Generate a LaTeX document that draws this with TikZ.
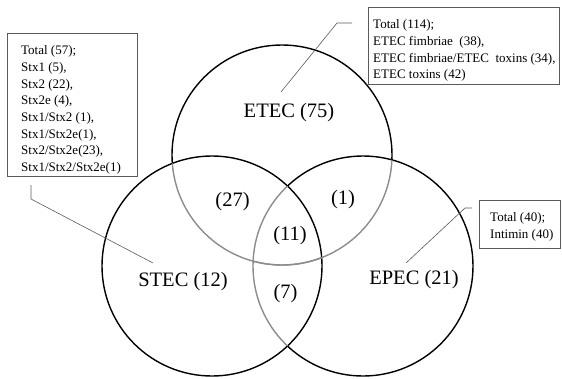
\documentclass[tikz,border=0pt]{standalone}
\usepackage{fontspec}
\setmainfont{Liberation Serif}
\usepackage{xcolor}
\definecolor{overlapgray}{HTML}{8C8C8C}
\definecolor{leadergray}{HTML}{5A5A5A}

\tikzset{
  ring/.style={line width=1.4pt},
  setlabel/.style={font=\fontsize{20.5}{24}\selectfont,inner sep=0pt},
  infobox/.style={draw=leadergray,line width=0.7pt,anchor=north west,inner sep=0pt},
  infotext/.style={font=\fontsize{13}{16.7}\selectfont,align=left,anchor=north west,inner sep=0pt},
  leader/.style={draw=leadergray,line width=0.6pt}
}

\begin{document}
\begin{tikzpicture}[x=1pt,y=-1pt]
\useasboundingbox (0,0) rectangle (562,378);

% Centres of the three sets
\coordinate (etecc) at (282,155);
\coordinate (stecc) at (212,266);
\coordinate (epecc) at (363,266);

% STEC circle, black all round
\draw[ring] (stecc) circle[radius=110pt];

% EPEC circle: black outside STEC, grey inside it
\begin{scope}[even odd rule]
  \clip (0,0) rectangle (562,378) (stecc) circle[radius=110pt];
  \draw[ring] (epecc) circle[radius=110pt];
\end{scope}
\begin{scope}
  \clip (stecc) circle[radius=110pt];
  \draw[ring,overlapgray] (epecc) circle[radius=110pt];
\end{scope}

% ETEC circle: black outside the two lower sets, grey inside them
\begin{scope}[even odd rule]
  \clip (0,0) rectangle (562,378) (stecc) circle[radius=110pt];
  \clip (0,0) rectangle (562,378) (epecc) circle[radius=110pt];
  \draw[ring] (etecc) circle[radius=110pt];
\end{scope}
\begin{scope}
  \clip (stecc) circle[radius=110pt];
  \draw[ring,overlapgray] (etecc) circle[radius=110pt];
\end{scope}
\begin{scope}
  \clip (epecc) circle[radius=110pt];
  \draw[ring,overlapgray] (etecc) circle[radius=110pt];
\end{scope}

% Set names and counts
\node[setlabel] (etec) at (289,113) {ETEC (75)};
\node[setlabel] (stec) at (183,281.5) {STEC (12)};
\node[setlabel] (epec) at (414,280) {EPEC (21)};
\node[setlabel] (etecstec) at (232.5,202) {(27)};
\node[setlabel] (etecepec) at (343,199.5) {(1)};
\node[setlabel] (allthree) at (290,236) {(11)};
\node[setlabel] (stecepec) at (285.5,294) {(7)};

% Detail boxes
\node[infobox,minimum width=130pt,minimum height=143pt] (stecbox) at (7,33) {};
\node[infotext] (stectext) at ([shift={(14,12.5)}]stecbox.north west)
  {Total (57);\\Stx1 (5),\\Stx2 (22),\\Stx2e (4),\\Stx1/Stx2 (1),\\Stx1/Stx2e(1),\\Stx2/Stx2e(23),\\Stx1/Stx2/Stx2e(1)};

\node[infobox,minimum width=191pt,minimum height=77pt] (etecbox) at (368,7) {};
\node[infotext] (etectext) at ([shift={(5,12.5)}]etecbox.north west)
  {Total (114);\\ETEC fimbriae~ (38),\\ETEC fimbriae/ETEC~ toxins (34),\\ETEC toxins (42)};

\node[infobox,minimum width=81pt,minimum height=48pt] (epecbox) at (479,200) {};
\node[infotext] (epectext) at ([shift={(11,12.5)}]epecbox.north west)
  {Total (40);\\Intimin (40)};

% Leader lines from the boxes into the circles
\coordinate (etectip) at (352,23);
\coordinate (etecknee) at (337,23);
\coordinate (etecfoot) at (281,92);
\draw[leader] (etectip) -- (etecknee) -- (etecfoot);

\coordinate (stectip) at (31,185);
\coordinate (stecknee) at (31,199);
\coordinate (stecfoot) at (153,263);
\draw[leader] (stectip) -- (stecknee) -- (stecfoot);

\coordinate (epectip) at (472,208);
\coordinate (epecknee) at (465,208);
\coordinate (epecfoot) at (406,263);
\draw[leader] (epectip) -- (epecknee) -- (epecfoot);

\end{tikzpicture}
\end{document}
